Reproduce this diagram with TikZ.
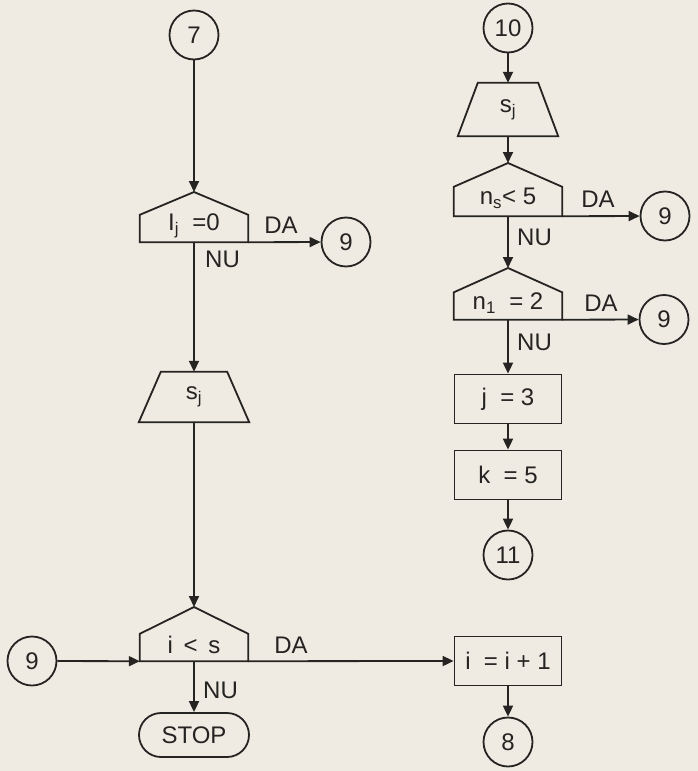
\documentclass[tikz,border=0pt]{standalone}
\usepackage{fontspec}
\setmainfont{Liberation Sans}
\usetikzlibrary{shapes.geometric,arrows.meta,calc}
\definecolor{paper}{RGB}{239,235,227}
\definecolor{ink}{RGB}{38,36,34}
\newcommand{\sbs}[1]{\textsubscript{#1}}
\begin{document}
\begin{tikzpicture}[x=1pt,y=-1pt,
  every node/.style={font=\fontsize{24}{27}\selectfont, text=ink},
  ln/.style={draw=ink, line width=1.8pt, line join=miter},
  arr/.style={ln, -{Triangle[length=11pt,width=10pt]}},
  conn/.style={circle, ln, minimum size=49pt, inner sep=0pt},
  box/.style={rectangle, ln, minimum width=107pt, minimum height=49pt, inner sep=0pt},
  decb/.style={rectangle, minimum width=108pt, minimum height=27pt, inner sep=0pt},
  dtext/.style={label={[inner sep=0pt, yshift=3pt]center:#1}},
  trapb/.style={rectangle, minimum width=110pt, minimum height=50pt, inner sep=0pt},
  term/.style={rectangle, rounded corners=22pt, ln, minimum width=110pt, minimum height=44pt},
  lbl/.style={inner sep=0pt}
]
\fill[paper] (0,0) rectangle (698,771);
\useasboundingbox (0,0) rectangle (698,771);

% ---------- left column ----------
\node[conn] (c7) at (194,35) {7};
\node[decb, dtext={I\sbs{j} \ =0}] (d1) at (194,228.5) {};
\coordinate (d1a) at (194,192);
\draw[ln] (d1.south west) -- (d1.north west) -- (d1a) -- (d1.north east) -- (d1.south east) -- cycle;
\node[conn] (c9a) at (346,242) {9};
\node[trapb] (t1) at (194,397) {s\sbs{j}};
\draw[ln] (t1.south west) -- ($(t1.north west)+(22,0)$) -- ($(t1.north east)+(-22,0)$) -- (t1.south east) -- cycle;
\node[decb, dtext={i \,<\, s}] (d2) at (194,647.5) {};
\coordinate (d2a) at (194,607);
\draw[ln] (d2.south west) -- (d2.north west) -- (d2a) -- (d2.north east) -- (d2.south east) -- cycle;
\node[conn] (c9b) at (32,661) {9};
\node[term] (stop) at (194,735) {STOP};

% ---------- right column ----------
\node[conn] (c10) at (508,28) {10};
\node[trapb, minimum width=100pt, minimum height=53pt] (t2) at (508,109.5) {s\sbs{j}};
\draw[ln] (t2.south west) -- ($(t2.north west)+(20,0)$) -- ($(t2.north east)+(-20,0)$) -- (t2.south east) -- cycle;
\node[decb, minimum height=29pt, dtext={n\sbs{s}< 5}] (d3) at (508,201.5) {};
\coordinate (d3a) at (508,163);
\draw[ln] (d3.south west) -- (d3.north west) -- (d3a) -- (d3.north east) -- (d3.south east) -- cycle;
\node[conn] (c9c) at (665,216) {9};
\node[decb, dtext={n\sbs{1} \ = 2}] (d4) at (508,306) {};
\coordinate (d4a) at (508,268);
\draw[ln] (d4.south west) -- (d4.north west) -- (d4a) -- (d4.north east) -- (d4.south east) -- cycle;
\node[conn] (c9d) at (664,319.5) {9};
\node[box] (bj) at (508,399) {j \ = 3};
\node[box] (bk) at (508,475) {k \ = 5};
\node[conn] (c11) at (508,555) {11};
\node[box] (bi) at (508,661) {i \ = i + 1};
\node[conn] (c8) at (508,742) {8};

% ---------- connectors ----------
\draw[arr] (c7) -- (d1a);
\draw[arr] (d1.south east) -- (c9a);
\draw[arr] (d1.south) -- (t1.north);
\draw[arr] (t1.south) -- (d2a);
\draw[arr] (c9b) -- (d2.south west);
\draw[arr] (d2.south east) -- (bi.west);
\draw[arr] (d2.south) -- (stop.north);

\draw[arr] (c10) -- (t2.north);
\draw[arr] (t2.south) -- (d3a);
\draw[arr] (d3.south east) -- (c9c);
\draw[arr] (d3.south) -- (d4a);
\draw[arr] (d4.south east) -- (c9d);
\draw[arr] (d4.south) -- (bj.north);
\draw[arr] (bj) -- (bk);
\draw[arr] (bk) -- (c11);
\draw[arr] (bi) -- (c8);

% ---------- labels ----------
\node[lbl] (l1) at (281,225) {DA};
\node[lbl, anchor=west] (l2) at (205,259) {NU};
\node[lbl] (l3) at (291,645) {DA};
\node[lbl, anchor=west] (l4) at (203,690) {NU};
\node[lbl] (l5) at (598,199) {DA};
\node[lbl, anchor=west] (l6) at (517,237) {NU};
\node[lbl] (l7) at (601,303) {DA};
\node[lbl, anchor=west] (l8) at (517,342) {NU};
\end{tikzpicture}
\end{document}
